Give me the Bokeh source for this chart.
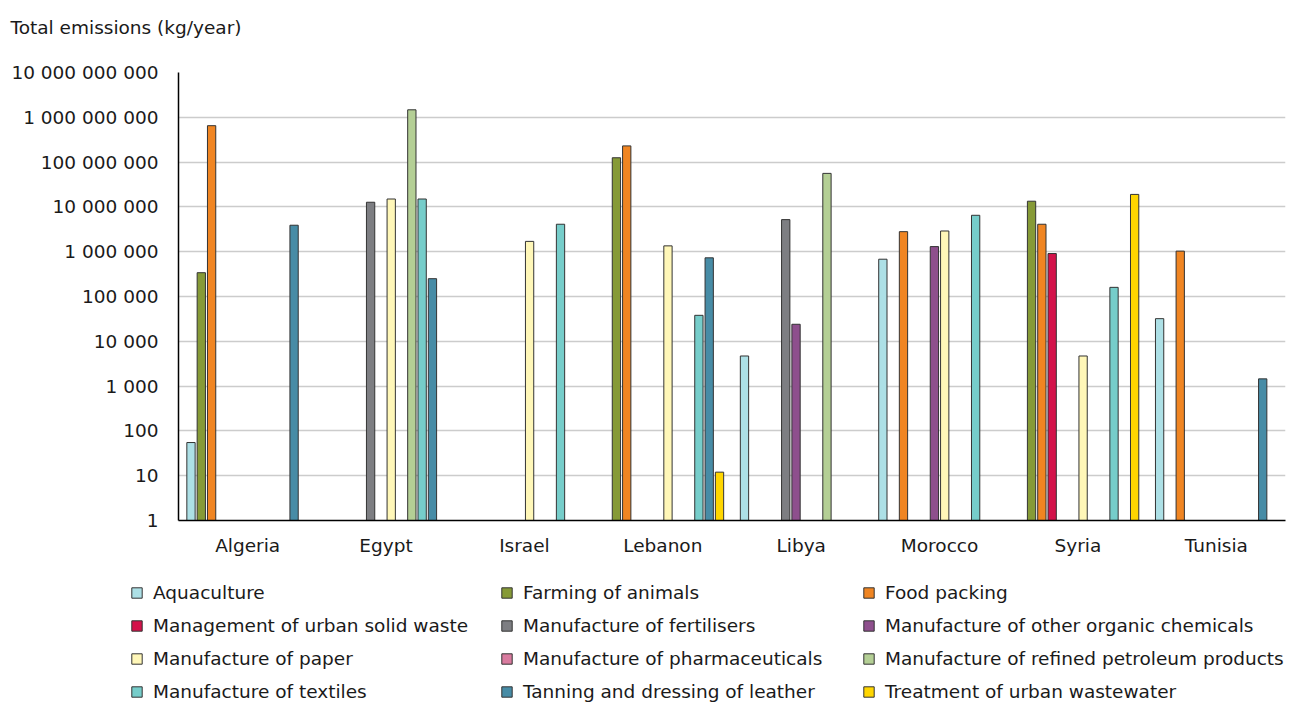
import numpy as np
from bokeh.plotting import figure
from bokeh.models import (FactorRange, Range1d, FixedTicker, Legend, LegendItem,
                          ColumnDataSource)
from bokeh.transform import dodge
from bokeh.embed import file_html
from bokeh.resources import INLINE

# ---------------- data ----------------
countries = ["Algeria", "Egypt", "Israel", "Lebanon", "Libya", "Morocco", "Syria", "Tunisia"]

series_names = [
    "Aquaculture",
    "Farming of animals",
    "Food packing",
    "Management of urban solid waste",
    "Manufacture of fertilisers",
    "Manufacture of other organic chemicals",
    "Manufacture of paper",
    "Manufacture of pharmaceuticals",
    "Manufacture of refined petroleum products",
    "Manufacture of textiles",
    "Tanning and dressing of leather",
    "Treatment of urban wastewater",
]

aquaculture = [55, None, None, None, 4700, 680000, None, 32000]
farming_of_animals = [340000, None, None, 125000000, None, None, 13400000, None]
food_packing = [650000000, None, None, 230000000, None, 2800000, 4100000, 1030000]
urban_solid_waste = [None, None, None, None, None, None, 910000, None]
fertilisers = [None, 12700000, None, None, 5200000, None, None, None]
organic_chemicals = [None, None, None, None, 24000, 1300000, None, None]
paper = [None, 15000000, 1700000, 1350000, None, 2900000, 4700, None]
pharmaceuticals = [None, None, None, None, None, None, None, None]
refined_petroleum = [None, 1470000000, None, None, 56000000, None, None, None]
textiles = [None, 15000000, 4100000, 38000, None, 6500000, 160000, None]
tanning_leather = [3900000, 250000, None, 730000, None, None, None, 1450]
urban_wastewater = [None, None, None, 12, None, None, 19000000, None]

series_values = [aquaculture, farming_of_animals, food_packing, urban_solid_waste,
                 fertilisers, organic_chemicals, paper, pharmaceuticals,
                 refined_petroleum, textiles, tanning_leather, urban_wastewater]

colors = ["#ade0e6", "#869a37", "#f08522", "#d3124a", "#7d7e82", "#8e4f8d",
          "#fff7b8", "#d97b9f", "#b4cf95", "#76cdca", "#478ca6", "#ffd600"]

y_ticks = [1, 10, 100, 1000, 10000, 100000, 1000000, 10000000,
           100000000, 1000000000, 10000000000]
y_tick_labels = ["1", "10", "100", "1 000", "10 000", "100 000", "1 000 000",
                 "10 000 000", "100 000 000", "1 000 000 000", "10 000 000 000"]

y_title = "Total emissions (kg/year)"

# ---------------- chart ----------------
FONT = "DejaVu Sans"
FS = "18.5px"
TXT = "#1a1a1a"
OUTLINE = "#333333"

W = 1291
H1 = 570
ML, MR, MT, MB = 178, 6, 72, 50

p = figure(x_range=FactorRange(*countries), y_range=Range1d(1, 1e10),
           y_axis_type="log", width=W, height=H1,
           output_backend="svg", toolbar_location=None,
           min_border_left=ML, min_border_right=MR,
           min_border_top=MT, min_border_bottom=MB)
p.outline_line_color = None
p.background_fill_color = "white"
p.border_fill_color = "white"

# title (the empty second line keeps it near the top of the border area)
p.title.text = y_title + "\n"
p.title.align = "left"
p.title.offset = 10 - ML
p.title.standoff = 27
p.title.text_font = FONT
p.title.text_font_size = FS
p.title.text_font_style = "normal"
p.title.text_color = TXT

n = len(series_names)
pitch = 0.0745
for i, (name, vals, col) in enumerate(zip(series_names, series_values, colors)):
    tops = np.array([np.nan if v is None else v for v in vals], dtype=float)
    src = ColumnDataSource(dict(x=countries, top=tops))
    p.vbar(x=dodge("x", (i - (n - 1) / 2) * pitch, range=p.x_range),
           top="top", bottom=1, width=0.06, source=src,
           fill_color=col, line_color=OUTLINE, line_width=1)

p.xaxis.axis_line_color = "black"
p.xaxis.axis_line_width = 1.5
p.xaxis.major_tick_line_color = None
p.xaxis.minor_tick_line_color = None
p.xaxis.major_label_text_font = FONT
p.xaxis.major_label_text_font_size = FS
p.xaxis.major_label_text_color = TXT
p.xaxis.major_label_standoff = 8

p.yaxis.ticker = FixedTicker(ticks=y_ticks, minor_ticks=[])
p.yaxis.major_label_overrides = dict(zip(y_ticks, y_tick_labels))
p.yaxis.axis_line_color = "black"
p.yaxis.axis_line_width = 1.5
p.yaxis.major_tick_line_color = None
p.yaxis.minor_tick_line_color = None
p.yaxis.major_label_text_font = FONT
p.yaxis.major_label_text_font_size = FS
p.yaxis.major_label_text_color = TXT
p.yaxis.major_label_standoff = 14

p.xgrid.grid_line_color = None
p.ygrid.grid_line_color = "#cccccc"
p.ygrid.grid_line_width = 1.5

# ---------------- legend panel (separate root, so frames are not aligned) ----------------
H2 = 702 - H1
lf = figure(width=W, height=H2, x_range=Range1d(0, 1), y_range=Range1d(0, 1),
            output_backend="svg", toolbar_location=None, min_border=0)
lf.axis.visible = False
lf.grid.grid_line_color = None
lf.outline_line_color = None
lf.background_fill_color = "white"
lf.border_fill_color = "white"

leg_renderers = []
for name, col in zip(series_names, colors):
    src = ColumnDataSource(dict(x=[0.5], top=[np.nan]))
    r = lf.vbar(x="x", top="top", bottom=0, width=0.1, source=src,
                fill_color=col, line_color=OUTLINE, line_width=1)
    leg_renderers.append(r)

col_x = [130, 500, 862]
for c in range(3):
    items = [LegendItem(label=series_names[k], renderers=[leg_renderers[k]])
             for k in range(c, n, 3)]
    lg = Legend(items=items, location=(col_x[c], 0), orientation="vertical",
                glyph_width=13, glyph_height=13, label_height=13, label_width=10,
                spacing=12, label_standoff=10, padding=0, margin=0,
                border_line_alpha=0, background_fill_alpha=0,
                label_text_font=FONT, label_text_font_size=FS,
                label_text_color=TXT)
    lf.add_layout(lg, "center")

open("out.html", "w").write(file_html([p, lf], INLINE))
